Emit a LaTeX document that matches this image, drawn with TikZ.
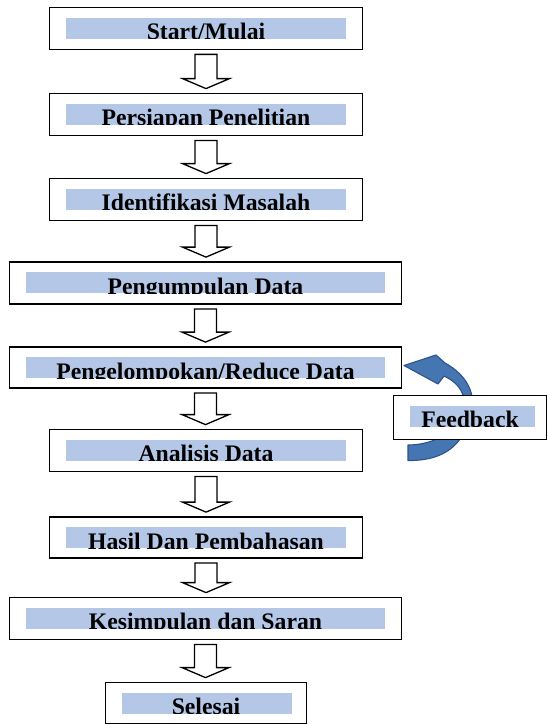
\documentclass[tikz,border=0pt]{standalone}
\usepackage{fontspec}
\setmainfont{Liberation Serif}
\usetikzlibrary{calc}
\definecolor{bandblue}{RGB}{180,199,231}
\definecolor{fbfill}{RGB}{70,118,178}
\definecolor{fbline}{RGB}{45,84,138}
\tikzset{
  stagebox/.style={draw=black, line width=1.8pt, fill=white, inner sep=0pt},
  lbl/.style={anchor=base, inner sep=0pt, font=\fontsize{23.7pt}{28pt}\selectfont\bfseries},
  blockarrow/.style={draw=black, line width=1.3pt, fill=white, line join=miter},
  curvedarr/.style={fill=fbfill, draw=fbline, line width=1.1pt, line join=round}
}
\newcommand\stage[7]{%
  \node[stagebox, minimum width=#4pt, minimum height=#5pt] (#1) at (#2,#3) {};
  \fill[bandblue] ([xshift=17pt,yshift=-11pt]#1.north west) rectangle ([xshift=-#6pt,yshift=-32pt]#1.north east);
  \begin{scope}
    \clip ([xshift=17pt,yshift=-11pt]#1.north west) rectangle ([xshift=-#6pt,yshift=-32pt]#1.north east);
    \node[lbl] (#1-t) at ([yshift=-33pt]#1.north) {#7};
  \end{scope}
}
\newcommand\blockarr[2]{%
  \draw[blockarrow] let \p1=(#1.south), \p2=(#2.north) in
    (\x1-11pt,\y1-4pt) -- (\x1+11pt,\y1-4pt) -- (\x1+11pt,\y2+14pt) -- (\x1+23.5pt,\y2+14pt)
    -- (\x1,\y2+4pt) -- (\x1-23.5pt,\y2+14pt) -- (\x1-11pt,\y2+14pt) -- cycle;
}
\begin{document}
\begin{tikzpicture}[x=1pt,y=-1pt]
\useasboundingbox (0,0) rectangle (547,725);
\stage{b1}{206}{28.5}{313}{42}{17}{Start/Mulai}
\stage{b2}{206}{114.5}{313}{42}{17}{Persiapan Penelitian}
\stage{b3}{206}{199.5}{313}{42}{17}{Identifikasi Masalah}
\stage{b4}{205.5}{283}{392}{42}{17}{Pengumpulan Data}
\stage{b5}{205.5}{367.5}{392}{41}{17}{Pengelompokan/Reduce Data}
\stage{b6}{206}{450.5}{313}{42}{17}{Analisis Data}
\stage{b7}{206}{537.5}{313}{41}{17}{Hasil Dan Pembahasan}
\stage{b8}{205.5}{618.5}{392}{42}{17}{Kesimpulan dan Saran}
\stage{b9}{206}{703}{201}{41}{15}{Selesai}
\blockarr{b1}{b2}
\blockarr{b2}{b3}
\blockarr{b3}{b4}
\blockarr{b4}{b5}
\blockarr{b5}{b6}
\blockarr{b6}{b7}
\blockarr{b7}{b8}
\blockarr{b8}{b9}
% curved feedback arrow
\draw[curvedarr] (408,460.5) .. controls (440,461) and (458,448) .. (466,428)
  .. controls (478,408) and (476,380) .. (445,363)
  -- (436,355) -- (404,365.5) -- (438,384) -- (444,376)
  .. controls (466,386) and (468,405) .. (460,419)
  .. controls (451,435) and (430,445) .. (408,445) -- cycle;
\stage{fb}{470}{417.5}{153}{44}{12}{Feedback}
\end{tikzpicture}
\end{document}
